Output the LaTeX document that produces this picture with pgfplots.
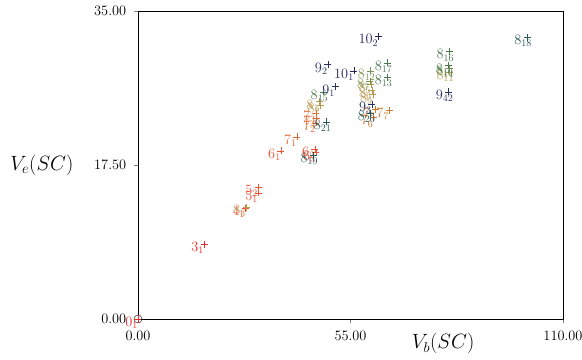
\documentclass[border=0pt]{standalone}
\usepackage{pgfplots}
\pgfplotsset{compat=1.18}
\usetikzlibrary{calc}
\definecolor{c1}{RGB}{236,44,44}
\definecolor{c2}{RGB}{242,80,52}
\definecolor{c3}{RGB}{232,104,44}
\definecolor{c4}{RGB}{205,120,40}
\definecolor{c5}{RGB}{185,152,80}
\definecolor{c6}{RGB}{118,146,78}
\definecolor{c7}{RGB}{72,120,76}
\definecolor{c8}{RGB}{40,88,88}
\definecolor{c9}{RGB}{38,52,100}
\definecolor{c10}{RGB}{36,36,92}
\def\splitlab#1_#2\relax{$#1$\rlap{$_{#2}$}}
\begin{document}
\begin{tikzpicture}
\begin{axis}[
  scale only axis, width=425bp, height=308bp,
  xmin=0, xmax=110, ymin=0, ymax=35,
  xtick={0,55,110}, ytick={0,17.5,35},
  tick align=outside, xtick pos=bottom, ytick pos=left,
  xticklabel style={/pgf/number format/.cd, fixed, fixed zerofill, precision=2, /tikz/.cd, yshift=-4bp},
  yticklabel style={/pgf/number format/.cd, fixed, fixed zerofill, precision=2, /tikz/.cd, xshift=-4bp},
  tick label style={font=\fontsize{13.5}{15}\selectfont},
  clip=false,
  axis line style={black},
  xlabel={$V_b(SC)$},
  ylabel={$V_e(SC)$},
  xlabel style={at={(axis description cs:0.718,0)}, anchor=north, yshift=-11bp, font=\fontsize{22.5}{25}\selectfont},
  ylabel style={at={(axis description cs:-0.226,0.5)}, anchor=center, rotate=-90, font=\fontsize{22.5}{25}\selectfont},
  every axis plot/.append style={only marks, mark=+, mark size=3.5bp, thin},
  nodes near coords={\expandafter\splitlab\pgfplotspointmeta\relax},
  point meta=explicit symbolic,
  nodes near coords style={anchor=north east, inner sep=0pt, font=\Large, xshift=-5.5bp, yshift=2bp},
]
\addplot[black, mark=o, mark size=4bp, nodes near coords={}] coordinates {(0,0) []};
\addplot[c1] coordinates {
(0,0) [0_1]
(17.1,8.5) [3_1]
};
\addplot[c2] coordinates {
(27.7,12.6) [4_1]
(31.1,14.35) [5_1]
(31.1,15.0) [5_2]
(37.0,19.1) [6_1]
(45.8,19.3) [6_2]
(46.0,18.9) [6_3]
};
\addplot[c3] coordinates {
(41.1,20.7) [7_1]
(46.0,22.3) [7_2]
(46.0,23.4) [7_3]
(46.1,22.8) [7_4]
};
\addplot[c4] coordinates {
(61.5,23.8) [7_5]
(61.0,22.9) [7_6]
(65.0,23.75) [7_7]
};
\addplot[c5] coordinates {
(46.9,24.7) [8_1]
(47.2,24.3) [8_2]
(28.0,12.7) [8_3]
(60.3,26.7) [8_5]
(60.5,26.0) [8_6]
(60.8,25.5) [8_9]
(80.6,28.1) [8_{11}]
};
\addplot[c6] coordinates {
(60.2,28.2) [8_{12}]
(60.0,27.0) [8_7]
(80.5,28.5) [8_{14}]
};
\addplot[c7] coordinates {
(64.6,27.5) [8_{13}]
(48.0,25.8) [8_{15}]
(80.6,30.4) [8_{16}]
(64.6,29.1) [8_{17}]
(80.4,28.8) [8_{10}]
};
\addplot[c8] coordinates {
(100.7,32.0) [8_{18}]
(45.4,18.6) [8_{19}]
(60.2,23.4) [8_{20}]
(48.8,22.4) [8_{21}]
};
\addplot[c9] coordinates {
(51.0,26.4) [9_1]
(49.1,28.9) [9_2]
(60.5,24.4) [9_3]
(80.4,25.8) [9_{42}]
};
\addplot[c10] coordinates {
(55.9,28.2) [10_1]
(62.2,32.1) [10_2]
};
\coordinate (bl) at (rel axis cs:0,0);
\end{axis}
\pgfresetboundingbox
\path ($(bl)+(-138bp,-41bp)$) rectangle ($(bl)+(444bp,319bp)$);
\end{tikzpicture}
\end{document}
